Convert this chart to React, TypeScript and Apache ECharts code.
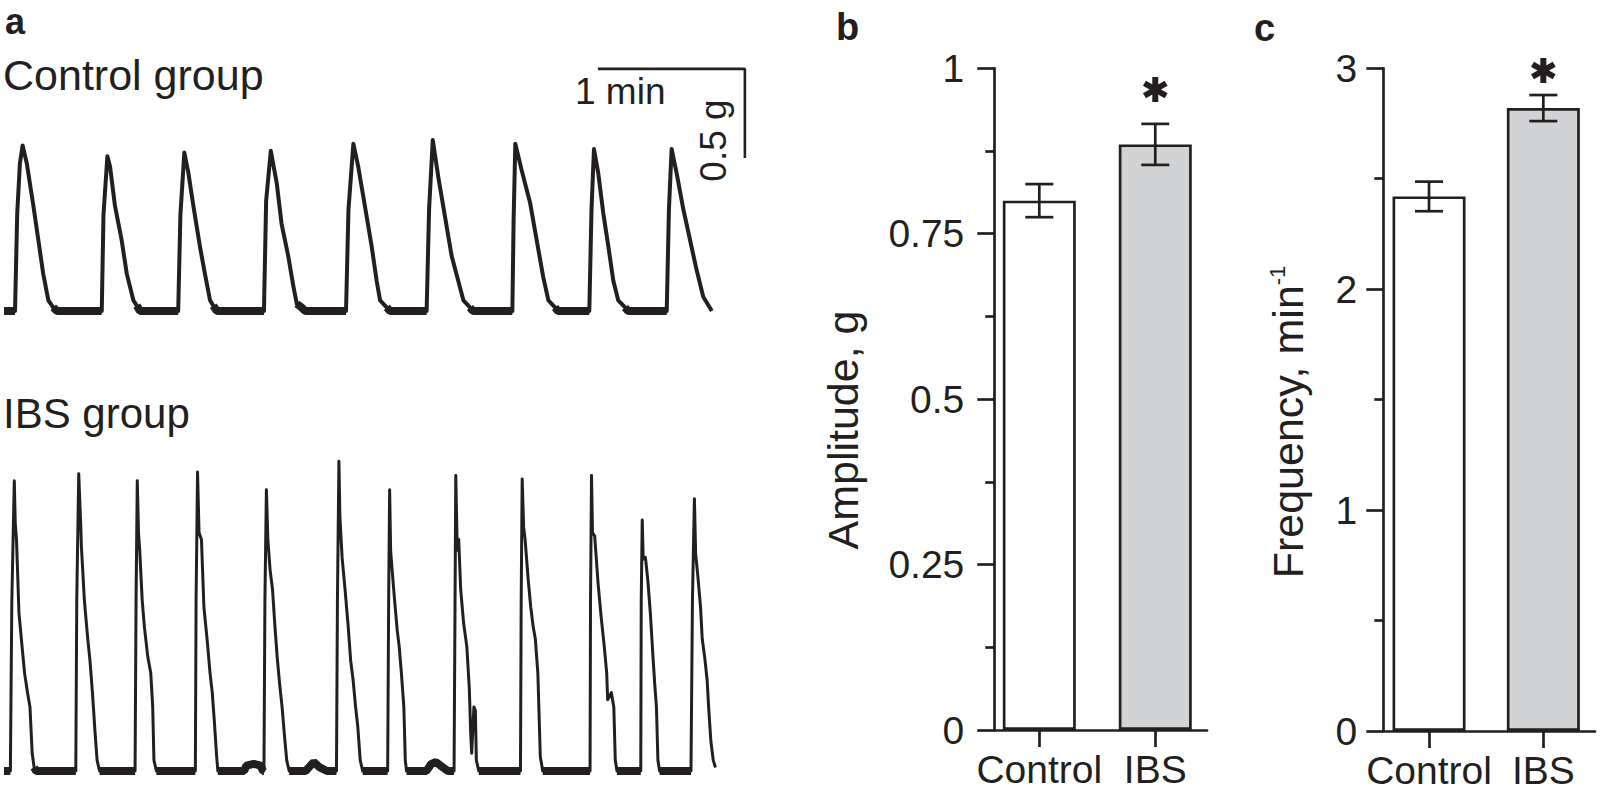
import React, { useEffect, useRef } from 'react';
import * as echarts from 'echarts';

const INK = '#231f20';
const GRAY = '#d1d3d4';
const FONT = "'Liberation Sans', Arial, Helvetica, sans-serif";

// ---- panel b / c data ----
const groups = ['Control', 'IBS'];
const amplitudeMean = [0.8, 0.885];
const amplitudeSem = [0.025, 0.031];
const amplitudeStar = [0, 0.968];
const frequencyMean = [2.42, 2.82];
const frequencySem = [0.067, 0.059];
const frequencyStar = [0, 2.99];

// ---- panel a traces: [time s, force g] ----
const controlTrace: number[][] = [
  [0, 0], [4.5, 0], [5.4, 0.55], [6.5, 0.83], [7.6, 0.93], [9.3, 0.83], [12.0, 0.59], [14.0, 0.4], [16.0, 0.21], [18.1, 0.06], [20.1, 0.02], [21.6, 0],
  [39.9, 0], [40.6, 0.54], [42.2, 0.87], [43.3, 0.81], [45.3, 0.59], [48.0, 0.4], [50.1, 0.21], [52.8, 0.06], [54.2, 0.03], [55.5, 0],
  [71.1, 0], [72.0, 0.54], [73.6, 0.89], [75.2, 0.78], [77.3, 0.59], [80.0, 0.36], [82.0, 0.21], [84.1, 0.06], [85.4, 0.03], [86.9, 0],
  [106.1, 0], [107.0, 0.62], [108.9, 0.9], [111.3, 0.72], [113.3, 0.49], [116.0, 0.31], [118.1, 0.14], [119.5, 0.04], [121.5, 0.02], [122.9, 0],
  [139.6, 0], [140.6, 0.57], [142.6, 0.94], [144.6, 0.81], [147.3, 0.59], [150.1, 0.36], [152.1, 0.17], [153.5, 0.06], [156.2, 0.02], [157.6, 0],
  [172.5, 0], [173.5, 0.57], [175.0, 0.96], [177.3, 0.75], [180.0, 0.53], [182.7, 0.31], [185.4, 0.17], [187.5, 0.06], [190.2, 0.02], [191.4, 0],
  [207.5, 0], [208.0, 0.51], [208.7, 0.94], [211.3, 0.79], [214.7, 0.61], [217.4, 0.4], [220.1, 0.19], [222.2, 0.06], [224.9, 0.02], [226.1, 0],
  [238.9, 0], [239.8, 0.57], [240.8, 0.91], [242.6, 0.77], [244.6, 0.55], [246.7, 0.36], [248.7, 0.17], [250.7, 0.06], [253.5, 0.02], [254.7, 0],
  [270.5, 0], [271.4, 0.57], [272.5, 0.91], [274.6, 0.77], [277.3, 0.57], [280.0, 0.4], [282.7, 0.23], [285.4, 0.08], [288.9, 0],
];

const ibsTrace: number[][] = [
  [0, 0], [2.6, 0], [3.2, 0.96], [4.2, 1.63], [4.6, 1.39], [5.1, 1.3], [6.1, 0.89], [7.1, 0.74], [8.4, 0.55], [9.6, 0.44], [10.6, 0.36], [11.5, 0.1], [12.3, 0.02], [13.1, 0],
  [29.3, 0], [29.7, 0.96], [30.5, 1.67], [31.3, 1.39], [31.6, 1.26], [32.8, 0.96], [34.2, 0.74], [35.1, 0.62], [36.1, 0.44], [37.1, 0.23], [38.0, 0.06], [39.0, 0],
  [53.5, 0], [53.9, 0.96], [54.4, 1.63], [54.9, 1.34], [55.4, 1.24], [56.4, 0.96], [57.3, 0.81], [58.7, 0.64], [59.9, 0.55], [60.7, 0.36], [61.2, 0.06], [62.2, 0],
  [78.1, 0], [78.4, 0.96], [79.0, 1.68], [79.6, 1.34], [80.6, 1.3], [81.6, 0.92], [82.9, 0.74], [84.1, 0.55], [85.0, 0.44], [85.8, 0.29], [86.8, 0.08], [87.3, 0],
  [98.0, 0], [98.9, 0.03], [101.9, 0.04], [104.8, 0.03], [105.7, 0],
  [106.1, 0], [106.5, 0.96], [107.1, 1.58], [107.7, 1.3], [108.6, 1.13], [109.6, 1.02], [110.6, 0.81], [111.5, 0.64], [112.5, 0.49], [113.5, 0.36], [114.4, 0.21], [115.4, 0.06], [116.4, 0],
  [123.1, 0], [125.1, 0.03], [126.4, 0.05], [128.9, 0.02], [131.8, 0],
  [135.7, 0], [136.1, 0.96], [136.7, 1.74], [137.1, 1.43], [138.0, 1.2], [139.2, 1.02], [140.5, 0.81], [141.5, 0.62], [142.5, 0.51], [143.5, 0.36], [144.4, 0.25], [145.4, 0.06], [146.4, 0],
  [156.6, 0], [157.0, 0.96], [157.4, 1.58], [157.8, 1.24], [158.3, 1.15], [159.3, 0.98], [160.5, 0.79], [161.3, 0.7], [162.2, 0.55], [163.2, 0.36], [163.8, 0.06], [164.3, 0],
  [172.4, 0], [174.4, 0.04], [176.3, 0.05], [179.2, 0.02], [181.2, 0],
  [183.7, 0], [184.1, 0.96], [184.4, 1.66], [185.0, 1.24], [185.6, 1.3], [186.4, 1.02], [187.6, 0.83], [188.9, 0.7], [189.9, 0.47], [190.5, 0.21], [190.9, 0.1], [191.8, 0.36], [192.4, 0.34], [192.8, 0.06], [193.8, 0],
  [210.8, 0], [211.1, 0.96], [211.5, 1.64], [212.1, 1.37], [212.7, 1.3], [214.0, 1.07], [215.0, 0.92], [216.0, 0.81], [216.9, 0.74], [217.3, 0.66], [217.9, 0.55], [218.5, 0.27], [218.9, 0.08], [219.9, 0],
  [239.2, 0], [239.4, 0.96], [239.8, 1.66], [240.2, 1.34], [241.1, 1.32], [242.5, 1.05], [243.7, 0.87], [245.0, 0.7], [246.0, 0.55], [246.4, 0.4], [247.9, 0.44], [248.9, 0.36], [249.5, 0.06], [250.2, 0],
  [259.9, 0], [260.1, 0.96], [260.5, 1.41], [260.9, 1.19], [261.8, 1.2], [262.8, 1.07], [263.8, 0.89], [264.9, 0.64], [265.7, 0.47], [266.3, 0.36], [266.9, 0.06], [267.6, 0],
  [280.4, 0], [281.0, 0.96], [281.8, 1.53], [282.3, 1.22], [283.1, 1.11], [284.3, 0.92], [285.0, 0.74], [286.0, 0.64], [287.0, 0.51], [287.6, 0.36], [288.5, 0.17], [289.5, 0.06], [290.4, 0.02],
];

// scale bar: 1 min horizontal, 0.5 g vertical (in control-trace units)
const scaleBar: number[][] = [[242.4, 1.36], [302.4, 1.36], [302.4, 0.86]];

const lineStyleAxis = { color: INK, width: 2.7 };

function baselineBand(trace: number[][]) {
  return trace.map(([t, g]) => (g <= 0.05 ? [t, g] : [t, '-']));
}

function traceSeries(idx: number, trace: number[][], width: number) {
  return [
    {
      type: 'line', xAxisIndex: idx, yAxisIndex: idx, data: trace, showSymbol: false, symbol: 'none',
      lineStyle: { color: INK, width, join: 'round' }, clip: false, silent: true,
    },
    {
      type: 'line', xAxisIndex: idx, yAxisIndex: idx, data: baselineBand(trace), showSymbol: false, symbol: 'none',
      connectNulls: false, lineStyle: { color: INK, width: 8 }, clip: false, silent: true,
    },
  ];
}

function errorSeries(idx: number, means: number[], sems: number[], stars: number[]) {
  const data = means.map((m, i) => [i, m, sems[i], stars[i]]);
  return {
    type: 'custom', xAxisIndex: idx, yAxisIndex: idx, data, z: 5, clip: false, silent: true,
    renderItem: (_p: any, api: any) => {
      const x = api.value(0), m = api.value(1), e = api.value(2), s = api.value(3);
      const top = api.coord([x, m + e]);
      const bot = api.coord([x, m - e]);
      const cap = 14;
      const st = { stroke: INK, lineWidth: 2.7 };
      const children: any[] = [
        { type: 'line', shape: { x1: top[0], y1: top[1], x2: bot[0], y2: bot[1] }, style: st },
        { type: 'line', shape: { x1: top[0] - cap, y1: top[1], x2: top[0] + cap, y2: top[1] }, style: st },
        { type: 'line', shape: { x1: bot[0] - cap, y1: bot[1], x2: bot[0] + cap, y2: bot[1] }, style: st },
      ];
      if (s > 0) {
        const c = api.coord([x, s]);
        const L = 12.5;
        [90, 30, 150].forEach((deg) => {
          const r = (deg * Math.PI) / 180;
          children.push({
            type: 'line',
            shape: { x1: c[0] - L * Math.cos(r), y1: c[1] + L * Math.sin(r), x2: c[0] + L * Math.cos(r), y2: c[1] - L * Math.sin(r) },
            style: { stroke: INK, lineWidth: 6 },
          });
        });
      }
      return { type: 'group', children };
    },
  };
}

function barSeries(idx: number, means: number[]) {
  return {
    type: 'bar', xAxisIndex: idx, yAxisIndex: idx, barWidth: 73, silent: true,
    data: means.map((v, i) => ({ value: [i, v], itemStyle: { color: i === 0 ? '#ffffff' : GRAY } })),
    itemStyle: { borderColor: INK, borderWidth: 2.7 },
  };
}

function catAxis(idx: number, min: number, max: number) {
  return {
    gridIndex: idx, type: 'value', min, max,
    axisLine: { show: true, onZero: false, lineStyle: lineStyleAxis },
    axisTick: { show: true, customValues: [0, 1], length: 17, lineStyle: lineStyleAxis },
    axisLabel: {
      customValues: [0, 1], formatter: (v: number) => groups[Math.round(v)],
      fontSize: 39, color: INK, fontFamily: FONT, margin: 20,
    },
    splitLine: { show: false },
  };
}

function valAxis(idx: number, max: number, interval: number, margin: number) {
  return {
    gridIndex: idx, type: 'value', min: 0, max, interval,
    axisLine: { show: true, onZero: false, lineStyle: lineStyleAxis },
    axisTick: { show: true, length: 17, lineStyle: lineStyleAxis },
    minorTick: { show: true, splitNumber: 2, length: 9, lineStyle: lineStyleAxis },
    axisLabel: { fontSize: 39, color: INK, fontFamily: FONT, margin },
    splitLine: { show: false },
    minorSplitLine: { show: false },
  };
}

function hiddenAxis(idx: number, min: number, max: number) {
  return { gridIndex: idx, type: 'value', min, max, show: false, splitLine: { show: false } };
}

function txt(text: string, x: number, y: number, size: number, opts: any = {}) {
  return {
    type: 'text', x, y, rotation: opts.rotation || 0,
    style: {
      text, fill: INK, fontFamily: FONT, fontSize: size, fontWeight: opts.bold ? 'bold' : 'normal',
      align: opts.align || 'left', verticalAlign: 'middle',
    },
  };
}

export default function App() {
  const ref = useRef<HTMLDivElement>(null);
  useEffect(() => {
    if (!ref.current) return;
    const chart = echarts.init(ref.current, undefined, { renderer: 'svg' });
    const option: any = {
      animation: false,
      backgroundColor: '#ffffff',
      grid: [
        { left: 4, top: 61.8, width: 759.5, height: 275.9 },
        { left: 4, top: 441.7, width: 759.5, height: 347.1 },
        { left: 994.3, top: 68.3, width: 212.7, height: 661.7 },
        { left: 1383.3, top: 68.3, width: 211.7, height: 662.7 },
      ],
      xAxis: [
        hiddenAxis(0, 0, 310),
        hiddenAxis(1, 0, 310),
        catAxis(2, -0.388, 1.446),
        catAxis(3, -0.4, 1.452),
      ],
      yAxis: [
        hiddenAxis(0, -0.15, 1.4),
        hiddenAxis(1, -0.1, 1.85),
        valAxis(2, 1, 0.25, 30),
        valAxis(3, 3, 1, 26),
      ],
      series: [
        ...traceSeries(0, controlTrace, 4),
        ...traceSeries(1, ibsTrace, 3),
        {
          type: 'line', xAxisIndex: 0, yAxisIndex: 0, data: scaleBar, symbol: 'none', clip: false, silent: true,
          lineStyle: { color: INK, width: 2.6 },
        },
        barSeries(2, amplitudeMean),
        errorSeries(2, amplitudeMean, amplitudeSem, amplitudeStar),
        barSeries(3, frequencyMean),
        errorSeries(3, frequencyMean, frequencySem, frequencyStar),
      ],
      graphic: [
        txt('a', 5, 21, 36, { bold: true }),
        txt('b', 836, 26.5, 38, { bold: true }),
        txt('c', 1254, 28, 38, { bold: true }),
        txt('Control group', 3, 75, 43),
        txt('IBS group', 3, 413, 42),
        txt('1 min', 575, 91.5, 37),
        txt('0.5 g', 713, 140.5, 37, { rotation: Math.PI / 2, align: 'center' }),
        txt('Amplitude, g', 843, 430, 43, { rotation: Math.PI / 2, align: 'center' }),
        {
          type: 'text', x: 1288, y: 422, rotation: Math.PI / 2,
          style: {
            text: '{t|Frequency, min}{s|-1}', fill: INK, align: 'center', verticalAlign: 'middle',
            rich: {
              t: { fontSize: 43, fontFamily: FONT, fill: INK },
              s: { fontSize: 22, fontFamily: FONT, fill: INK, verticalAlign: 'top' },
            },
          },
        },
      ],
    };
    chart.setOption(option);
    return () => chart.dispose();
  }, []);
  return (
    <div
      ref={ref}
      style={{ position: 'fixed', left: 0, top: 0, width: 1600, height: 793, background: '#fff' }}
    />
  );
}
